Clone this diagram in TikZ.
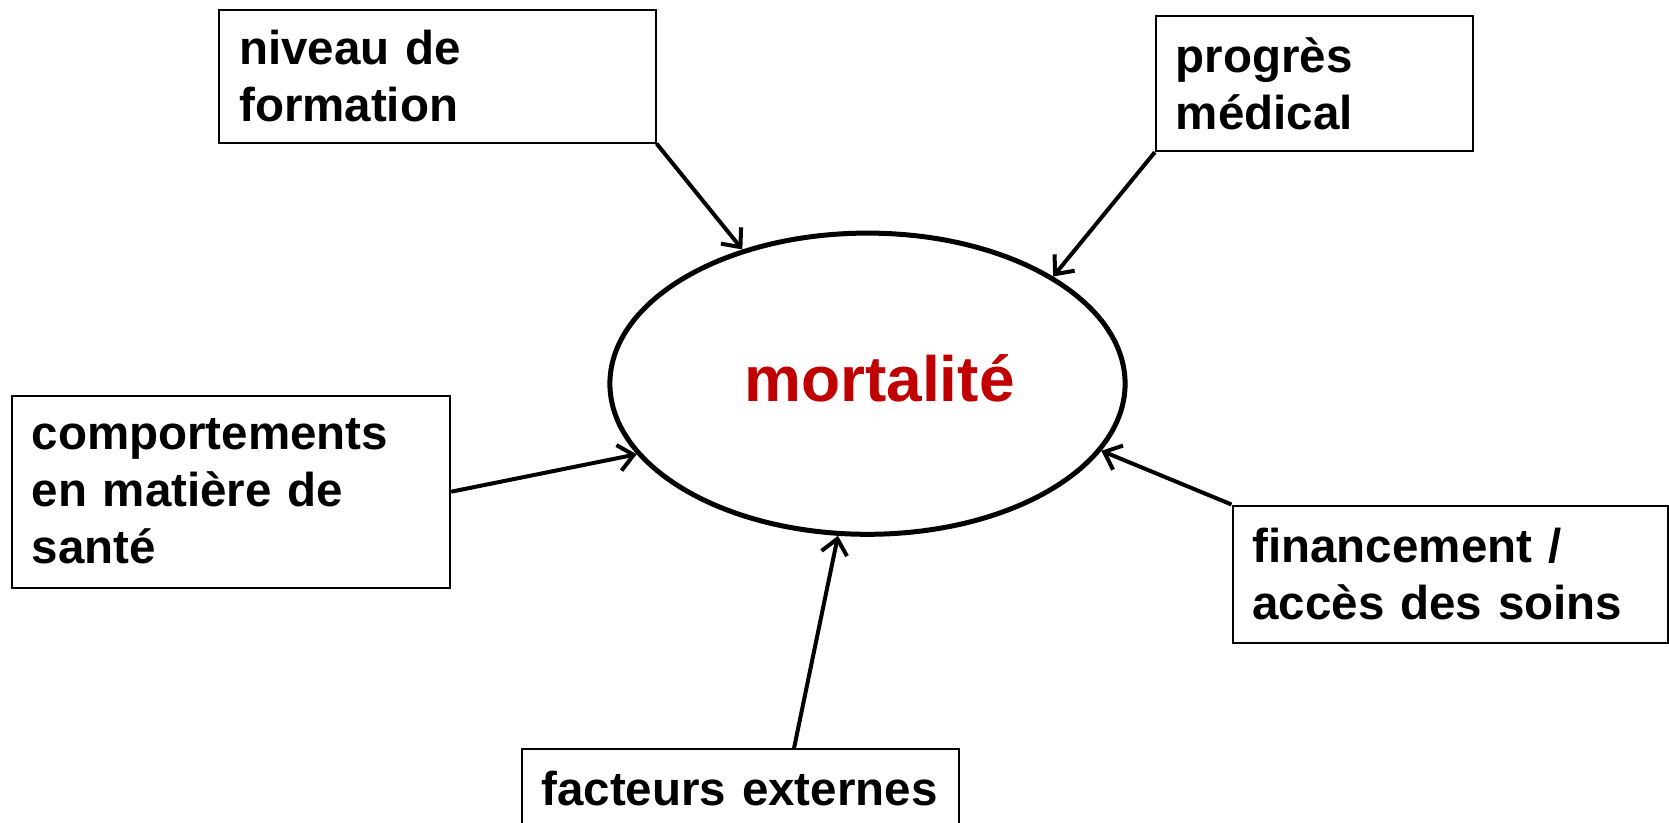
\documentclass[tikz,border=0pt]{standalone}
\usepackage{fontspec}
\setmainfont{Liberation Sans}
\usetikzlibrary{shapes.geometric,arrows.meta}
\definecolor{mred}{RGB}{192,0,0}
\begin{document}
\begin{tikzpicture}[x=1pt,y=-1pt,
  box/.style={draw, line width=2pt, rectangle, anchor=north west, inner xsep=20pt, inner ysep=0pt, align=left,
    font=\fontsize{47.5}{57}\selectfont\bfseries},
  ell/.style={draw, ellipse, line width=5pt, inner sep=0pt, minimum width=515.2pt, minimum height=301.2pt},
  ttl/.style={anchor=base, text=mred, font=\fontsize{64}{70}\selectfont\bfseries},
  arr/.style={line width=4pt, -{Straight Barb[length=15pt,width=26pt]}}
]
\useasboundingbox (0,0) rectangle (1669,822);
\fill[white] (0,0) rectangle (1669,822);

\node[box, text width=396.4pt, minimum height=133.1pt] (b1) at (218.2,8.5) {niveau de\\formation};
\node[box, text width=277.2pt, minimum height=135.2pt] (b2) at (1154.9,14.9) {progrès\\médical};
\node[box, text width=398.6pt, minimum height=191.6pt] (b3) at (10.6,394.9) {comportements\\en matière de\\santé};
\node[box, text width=395.5pt, minimum height=137.3pt] (b4) at (1231.5,504.5) {\mbox{financement /}\\\mbox{accès des soins}};
\node[box, text width=397.5pt, minimum height=79pt] (b5) at (520.5,748.3) {\mbox{facteurs externes}};

\node[ell] (m) at (867.5,383.7) {};
\node[ttl] (mt) at (879.5,401) {mortalité};

\draw[arr] (b1.south east) -- (m.133);
\draw[arr] (b2.south west) -- (m.30);
\draw[arr] (b3.east) -- (m.197);
\draw[arr] (b4.north west) -- (m.-16.6);
\draw[arr] ([xshift=53.75pt]b5.north) -- (m.-101);
\end{tikzpicture}
\end{document}
